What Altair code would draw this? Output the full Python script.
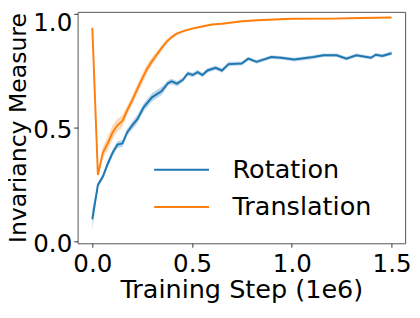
import altair as alt
import pandas as pd

series_names = ["Rotation", "Translation"]
series_colors = ["#1f77b4", "#ff7f0e"]

rot_x = [0.0, 0.028, 0.053, 0.077, 0.102, 0.126, 0.151, 0.175, 0.200, 0.225,
         0.258, 0.299, 0.348, 0.380, 0.397, 0.425, 0.454, 0.479, 0.503, 0.528,
         0.552, 0.577, 0.618, 0.650, 0.683, 0.749, 0.782, 0.823, 0.897, 0.945,
         1.012, 1.108, 1.159, 1.225, 1.274, 1.323, 1.397, 1.421, 1.454, 1.500]
rot_y = [0.097, 0.248, 0.285, 0.340, 0.390, 0.425, 0.430, 0.480, 0.510, 0.536,
         0.590, 0.633, 0.661, 0.696, 0.703, 0.693, 0.710, 0.738, 0.731, 0.744,
         0.731, 0.751, 0.763, 0.751, 0.779, 0.782, 0.803, 0.789, 0.810, 0.807,
         0.799, 0.810, 0.818, 0.818, 0.803, 0.818, 0.807, 0.820, 0.815, 0.827]
rot_spread = [0.045, 0.012, 0.012, 0.015, 0.015, 0.015, 0.015, 0.015, 0.018, 0.018,
              0.018, 0.018, 0.018, 0.012, 0.012, 0.012, 0.010, 0.010, 0.010, 0.010,
              0.010, 0.010, 0.010, 0.010, 0.010, 0.008, 0.008, 0.008, 0.008, 0.008,
              0.008, 0.008, 0.008, 0.008, 0.008, 0.008, 0.008, 0.008, 0.008, 0.008]

tra_x = [0.0, 0.028, 0.053, 0.077, 0.102, 0.126, 0.151, 0.175, 0.200, 0.225,
         0.250, 0.274, 0.298, 0.323, 0.348, 0.372, 0.397, 0.421, 0.460, 0.500,
         0.550, 0.600, 0.650, 0.700, 0.750, 0.850, 1.000, 1.200, 1.350, 1.500]
tra_y = [0.939, 0.292, 0.390, 0.430, 0.480, 0.510, 0.529, 0.576, 0.620, 0.668,
         0.715, 0.758, 0.790, 0.821, 0.850, 0.877, 0.897, 0.912, 0.925, 0.935,
         0.944, 0.953, 0.956, 0.962, 0.967, 0.973, 0.978, 0.979, 0.982, 0.984]
tra_spread = [0.005, 0.008, 0.025, 0.030, 0.030, 0.028, 0.025, 0.020, 0.020, 0.022,
              0.022, 0.020, 0.018, 0.015, 0.012, 0.010, 0.008, 0.006, 0.005, 0.005,
              0.004, 0.003, 0.003, 0.003, 0.003, 0.003, 0.003, 0.003, 0.003, 0.003]

x_ticks = [0.0, 0.5, 1.0, 1.5]
y_ticks = [0.0, 0.5, 1.0]

rows = []
for name, xs, ys, ss in [("Rotation", rot_x, rot_y, rot_spread),
                         ("Translation", tra_x, tra_y, tra_spread)]:
    for x, y, s in zip(xs, ys, ss):
        rows.append({"series": name, "step": x, "value": y, "lo": y - s, "hi": y + s})
df = pd.DataFrame(rows)

FONT = "DejaVu Sans"

x_scale = alt.Scale(domain=[-0.0737, 1.568], nice=False, zero=False)
y_scale = alt.Scale(domain=[-0.0086, 1.0086], nice=False, zero=False)

x_axis = alt.Axis(values=x_ticks, format=".1f", title="Training Step (1e6)",
                  labelPadding=5, titleBaseline="alphabetic", titleY=55,
                  titleFontSize=26)
y_axis = alt.Axis(values=y_ticks, format=".1f", title="Invariancy Measure",
                  labelPadding=2,
                  labelOffset={"condition": {"test": "datum.value == 1", "value": 9}, "value": 2.5},
                  titleBaseline="alphabetic", titleX=-53, titleY=118,
                  titleAngle=270, titleAlign="center", titleFontSize=24)

color_scale = alt.Scale(domain=series_names, range=series_colors)
legend = alt.Legend(title=None, orient="none", legendX=91, legendY=146,
                    symbolType="M-2,0L2,0", symbolSize=784,
                    symbolStrokeWidth=2, symbolOpacity=1, labelFontSize=26,
                    labelFont=FONT, labelOffset=37, rowPadding=10,
                    padding=0, labelColor="black")

band = alt.Chart(df).mark_area(opacity=0.3, clip=True).encode(
    x=alt.X("step:Q", scale=x_scale, axis=x_axis),
    y=alt.Y("lo:Q", scale=y_scale, axis=y_axis),
    y2="hi:Q",
    color=alt.Color("series:N", scale=color_scale, legend=legend),
)

line = alt.Chart(df).mark_line(strokeWidth=2, clip=True).encode(
    x=alt.X("step:Q", scale=x_scale, axis=x_axis),
    y=alt.Y("value:Q", scale=y_scale, axis=y_axis),
    color=alt.Color("series:N", scale=color_scale, legend=legend),
)

chart = alt.layer(band, line).properties(
    width=334, height=236,
    autosize=alt.AutoSizeParams(type="none"),
    padding={"left": 71, "top": 1, "right": 7, "bottom": 61},
).configure_view(
    stroke="#555", strokeWidth=1
).configure_axis(
    domain=False, grid=False, tickColor="#333", tickSize=4, tickWidth=1,
    labelFont=FONT, labelFontSize=25, labelColor="black",
    titleFont=FONT, titleColor="black", titleFontWeight="normal",
)

chart.save("out.html", embed_options={"renderer": "svg", "actions": False})
